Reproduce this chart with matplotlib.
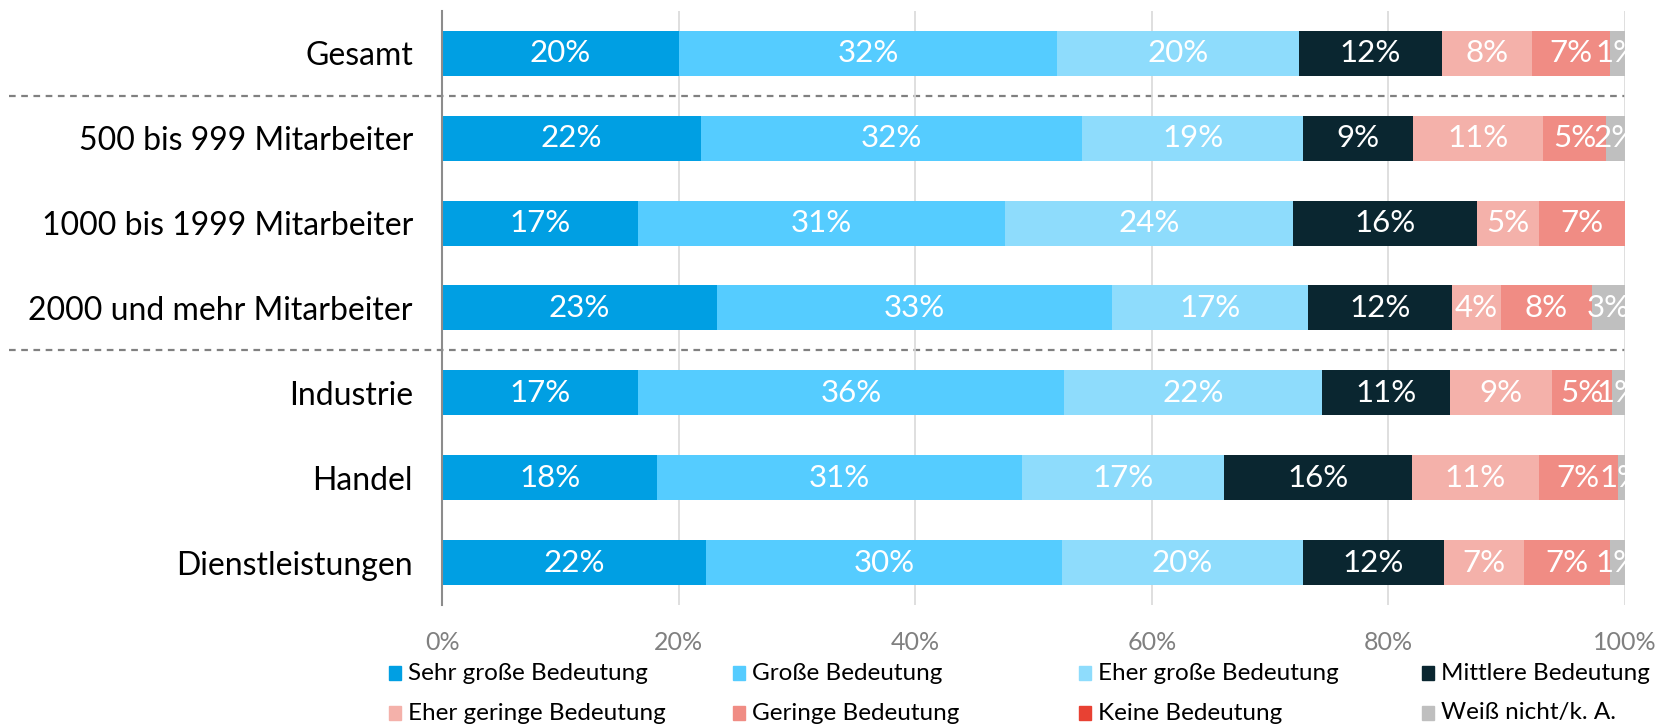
import matplotlib
matplotlib.use('Agg')
import matplotlib.pyplot as plt
import matplotlib.transforms as mtransforms
from matplotlib.patches import Rectangle
import numpy as np

plt.rcParams['font.family'] = ['Lato', 'DejaVu Sans']

categories = ['Gesamt', '500 bis 999 Mitarbeiter', '1000 bis 1999 Mitarbeiter',
              '2000 und mehr Mitarbeiter', 'Industrie', 'Handel', 'Dienstleistungen']

series_names = ['Sehr große Bedeutung', 'Große Bedeutung', 'Eher große Bedeutung',
                'Mittlere Bedeutung', 'Eher geringe Bedeutung', 'Geringe Bedeutung',
                'Keine Bedeutung', 'Weiß nicht/k. A.']

sehr_gross = [20.0, 21.9, 16.6, 23.2, 16.6, 18.2, 22.3]
gross = [32.0, 32.2, 31.0, 33.4, 36.0, 30.8, 30.1]
eher_gross = [20.4, 18.7, 24.3, 16.6, 21.8, 17.1, 20.4]
mittlere = [12.1, 9.3, 15.6, 12.2, 10.8, 15.9, 11.9]
eher_gering = [7.6, 11.0, 5.2, 4.1, 8.6, 10.7, 6.8]
gering = [6.6, 5.3, 7.3, 7.7, 5.1, 6.7, 7.2]
keine = [0, 0, 0, 0, 0, 0, 0]
weiss_nicht = [1.3, 1.6, 0, 2.8, 1.1, 0.6, 1.3]

colors = ['#009FE3', '#55CCFF', '#8EDCFC', '#0A2630',
          '#F4B1AA', '#F08C84', '#E84133', '#BFBFBF']


def main():
    series = [sehr_gross, gross, eher_gross, mittlere, eher_gering, gering, keine, weiss_nicht]
    fig = plt.figure(figsize=(16.72, 7.28), dpi=100)
    ax = fig.add_axes([0.2644, 0.169, 0.7075, 0.816])

    y = np.arange(len(categories))
    left = np.zeros(len(categories))
    for values, color in zip(series, colors):
        values = np.array(values, dtype=float)
        ax.barh(y, values, left=left, height=0.53, color=color, edgecolor='none', zorder=2)
        for yi, (l, v) in enumerate(zip(left, values)):
            if v > 0:
                ax.text(l + v / 2, yi, f'{round(v):.0f}%', ha='center', va='center',
                        color='white', fontsize=22.5, zorder=3, clip_on=True)
        left += values

    ax.set_xlim(0, 100)
    ax.set_ylim(6.5, -0.5)
    ax.set_yticks(y)
    ax.set_yticklabels(categories, fontsize=23)
    ax.set_xticks([0, 20, 40, 60, 80, 100])
    ax.set_xticklabels(['0%', '20%', '40%', '60%', '80%', '100%'], fontsize=18, color='#808080')
    ax.tick_params(axis='both', length=0)
    ax.tick_params(axis='y', pad=21)
    ax.tick_params(axis='x', pad=19)
    ax.grid(axis='x', color='#D9D9D9', linewidth=1.2, zorder=0)
    for side in ['top', 'right', 'bottom']:
        ax.spines[side].set_visible(False)
    ax.spines['left'].set_color('#8C8C8C')
    ax.spines['left'].set_linewidth(1.5)
    ax.spines['left'].set_zorder(4)

    # dashed separators reaching into the label area
    trans = mtransforms.blended_transform_factory(ax.transAxes, ax.transData)
    for sep in [0.5, 3.5]:
        ax.plot([-0.3665, 1.0], [sep, sep], transform=trans, color='#808080',
                linestyle=(0, (3, 2.5)), linewidth=1.6, clip_on=False, zorder=1)

    # legend, 4 columns x 2 rows
    col_x = [389, 733, 1079, 1422]
    row_y = [673, 713]
    W, H = 1672, 728
    for i, (name, color) in enumerate(zip(series_names, colors)):
        r, c = divmod(i, 4)
        x0 = col_x[c]
        yc = row_y[r]
        fig.patches.append(Rectangle((x0 / W, (H - yc - 7) / H), 12 / W, 14 / H,
                                     transform=fig.transFigure, color=color))
        fig.text((x0 + 19) / W, (H - yc) / H, name, fontsize=17.5, va='center', ha='left')

    fig.savefig('out.png', dpi=100)


if __name__ == '__main__':
    main()
